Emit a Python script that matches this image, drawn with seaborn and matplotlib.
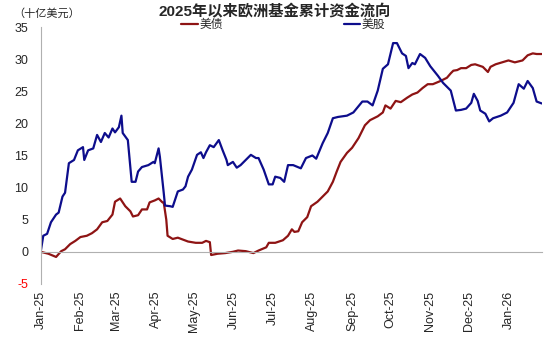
import matplotlib
matplotlib.use("Agg")
import matplotlib.pyplot as plt
import matplotlib.dates as mdates
import seaborn as sns
import pandas as pd

# ---- data (十亿美元) ----
stock_dates = [
    "2025-01-01", "2025-01-03", "2025-01-06", "2025-01-09", "2025-01-13", "2025-01-15",
    "2025-01-18", "2025-01-20", "2025-01-23", "2025-01-27", "2025-01-30", "2025-02-03",
    "2025-02-04", "2025-02-07", "2025-02-11", "2025-02-14", "2025-02-17", "2025-02-20",
    "2025-02-23", "2025-02-26", "2025-02-28", "2025-03-03", "2025-03-05", "2025-03-06",
    "2025-03-10", "2025-03-13", "2025-03-16", "2025-03-18", "2025-03-21", "2025-03-26",
    "2025-03-30", "2025-03-31", "2025-04-03", "2025-04-04", "2025-04-07", "2025-04-08",
    "2025-04-12", "2025-04-14", "2025-04-18", "2025-04-22", "2025-04-24", "2025-04-26",
    "2025-04-29", "2025-05-03", "2025-05-06", "2025-05-08", "2025-05-10", "2025-05-13",
    "2025-05-16", "2025-05-20", "2025-05-23", "2025-05-26", "2025-05-27", "2025-05-31",
    "2025-06-03", "2025-06-06", "2025-06-10", "2025-06-14", "2025-06-18", "2025-06-20",
    "2025-06-24", "2025-06-28", "2025-07-01", "2025-07-03", "2025-07-07", "2025-07-10",
    "2025-07-13", "2025-07-17", "2025-07-23", "2025-07-27", "2025-08-01", "2025-08-04",
    "2025-08-09", "2025-08-13", "2025-08-17", "2025-08-21", "2025-08-28", "2025-09-02",
    "2025-09-09", "2025-09-13", "2025-09-17", "2025-09-21", "2025-09-25", "2025-09-29",
    "2025-10-03", "2025-10-06", "2025-10-10", "2025-10-13", "2025-10-15", "2025-10-18",
    "2025-10-20", "2025-10-24", "2025-10-28", "2025-11-01", "2025-11-07", "2025-11-11",
    "2025-11-17", "2025-11-21", "2025-11-25", "2025-11-29", "2025-12-03", "2025-12-05",
    "2025-12-08", "2025-12-10", "2025-12-14", "2025-12-17", "2025-12-20", "2025-12-26",
    "2025-12-31", "2026-01-05", "2026-01-09", "2026-01-13", "2026-01-16", "2026-01-20",
    "2026-01-23", "2026-01-27",
]
stock_values = [
    0.0, 2.5, 2.8, 4.6, 5.8, 6.1,
    8.6, 9.2, 13.8, 14.3, 15.8, 16.3,
    14.3, 15.8, 16.1, 18.2, 17.1, 18.5,
    17.8, 19.2, 18.6, 19.4, 21.2, 18.5,
    17.4, 10.9, 10.9, 12.5, 13.2, 13.5,
    14.0, 13.8, 16.1, 14.8, 9.2, 7.2,
    7.1, 7.0, 9.4, 9.7, 10.2, 11.7,
    12.8, 15.1, 15.5, 14.6, 15.5, 16.6,
    16.3, 17.4, 15.8, 14.3, 13.5, 14.0,
    13.1, 13.5, 14.3, 15.1, 14.6, 14.6,
    12.8, 10.5, 10.5, 11.7, 11.5, 10.9,
    13.5, 13.5, 13.0, 14.6, 15.0, 14.5,
    16.9, 18.5, 20.8, 21.0, 21.2, 21.7,
    23.4, 23.4, 22.8, 25.1, 28.5, 29.2,
    32.5, 32.5, 30.9, 30.5, 28.6, 29.4,
    29.2, 30.8, 30.2, 28.9, 27.4, 26.3,
    25.1, 22.0, 22.1, 22.3, 23.2, 24.6,
    23.5, 22.0, 21.5, 20.3, 20.8, 21.2,
    21.7, 23.2, 26.1, 25.4, 26.6, 25.5,
    23.4, 23.1,
]

bond_dates = [
    "2025-01-01", "2025-01-07", "2025-01-13", "2025-01-17", "2025-01-20", "2025-01-24",
    "2025-01-28", "2025-02-01", "2025-02-06", "2025-02-10", "2025-02-14", "2025-02-18",
    "2025-02-22", "2025-02-26", "2025-02-28", "2025-03-04", "2025-03-08", "2025-03-12",
    "2025-03-14", "2025-03-18", "2025-03-21", "2025-03-25", "2025-03-27", "2025-03-31",
    "2025-04-03", "2025-04-06", "2025-04-07", "2025-04-09", "2025-04-10", "2025-04-14",
    "2025-04-18", "2025-04-22", "2025-04-26", "2025-05-02", "2025-05-07", "2025-05-10",
    "2025-05-13", "2025-05-14", "2025-05-19", "2025-05-25", "2025-05-31", "2025-06-04",
    "2025-06-10", "2025-06-16", "2025-06-20", "2025-06-26", "2025-06-28", "2025-07-03",
    "2025-07-09", "2025-07-13", "2025-07-16", "2025-07-18", "2025-07-21", "2025-07-24",
    "2025-07-28", "2025-07-31", "2025-08-05", "2025-08-09", "2025-08-13", "2025-08-17",
    "2025-08-20", "2025-08-23", "2025-08-28", "2025-09-01", "2025-09-06", "2025-09-11",
    "2025-09-15", "2025-09-21", "2025-09-25", "2025-09-27", "2025-10-01", "2025-10-05",
    "2025-10-09", "2025-10-14", "2025-10-18", "2025-10-22", "2025-10-26", "2025-10-30",
    "2025-11-03", "2025-11-09", "2025-11-14", "2025-11-17", "2025-11-19", "2025-11-22",
    "2025-11-25", "2025-11-29", "2025-12-03", "2025-12-06", "2025-12-12", "2025-12-16",
    "2025-12-18", "2025-12-22", "2025-12-27", "2026-01-01", "2026-01-06", "2026-01-12",
    "2026-01-16", "2026-01-20", "2026-01-23", "2026-01-27",
]
bond_values = [
    0.0, -0.3, -0.8, 0.1, 0.4, 1.2,
    1.7, 2.3, 2.5, 2.9, 3.5, 4.6,
    4.8, 5.8, 7.8, 8.3, 7.1, 6.3,
    5.5, 5.7, 6.6, 6.6, 7.7, 8.0,
    8.3, 7.7, 7.7, 5.0, 2.5, 2.0,
    2.2, 1.9, 1.6, 1.4, 1.4, 1.7,
    1.5, -0.5, -0.3, -0.2, 0.0, 0.2,
    0.1, -0.2, 0.2, 0.7, 1.4, 1.4,
    1.8, 2.5, 3.5, 3.1, 3.2, 4.6,
    5.4, 7.1, 7.8, 8.6, 9.4, 10.9,
    12.5, 14.0, 15.4, 16.2, 17.7, 19.7,
    20.5, 21.1, 21.7, 22.8, 22.3, 23.5,
    23.3, 24.0, 24.5, 24.8, 25.5, 26.1,
    26.1, 26.6, 27.1, 27.8, 28.2, 28.3,
    28.6, 28.6, 29.1, 29.2, 28.8, 28.0,
    28.8, 29.2, 29.5, 29.8, 29.5, 29.8,
    30.6, 30.9, 30.8, 30.8,
]

series_names = ["美债", "美股"]
series_colors = ["#8E1414", "#0D0D8C"]
title_text = "2025年以来欧洲基金累计资金流向"
unit_text = "（十亿美元）"
y_ticks = [-5, 0, 5, 10, 15, 20, 25, 30, 35]

# ---- frames ----
bond_df = pd.DataFrame({"date": pd.to_datetime(bond_dates), "value": bond_values})
stock_df = pd.DataFrame({"date": pd.to_datetime(stock_dates), "value": stock_values})

sns.set_style("white")
plt.rcParams["font.family"] = ["Liberation Sans", "Noto Sans CJK SC", "DejaVu Sans"]
plt.rcParams["axes.unicode_minus"] = False

fig = plt.figure(figsize=(5.5, 3.38), dpi=100)
ax = fig.add_axes([0.074, 0.160, 0.911, 0.760])

sns.lineplot(data=bond_df, x="date", y="value", ax=ax, color=series_colors[0],
             linewidth=1.6, label=series_names[0])
sns.lineplot(data=stock_df, x="date", y="value", ax=ax, color=series_colors[1],
             linewidth=1.6, label=series_names[1])

ax.set_xlim(bond_df["date"].min(), bond_df["date"].max())
ax.set_ylim(-5, 35)
ax.set_yticks(y_ticks)
ax.set_xlabel("")
ax.set_ylabel("")

# spines
for s in ["top", "right"]:
    ax.spines[s].set_visible(False)
ax.spines["left"].set_color("#B0B0B0")
ax.spines["left"].set_linewidth(0.8)
ax.spines["bottom"].set_position(("data", 0))
ax.spines["bottom"].set_color("#B0B0B0")
ax.spines["bottom"].set_linewidth(0.8)

ax.xaxis.set_major_locator(mdates.MonthLocator())
ax.xaxis.set_major_formatter(mdates.DateFormatter("%b-%y"))
ax.tick_params(axis="x", direction="in", length=3, width=0.8, color="#B0B0B0",
               pad=28, labelsize=9, rotation=90)
ax.tick_params(axis="y", direction="in", length=3, width=0.8, color="#B0B0B0",
               pad=9, labelsize=9)
for lbl in ax.get_xticklabels():
    lbl.set_verticalalignment("top")
for t, lbl in zip(y_ticks, ax.get_yticklabels()):
    if t < 0:
        lbl.set_color("red")

# legend
ax.legend(loc="center", bbox_to_anchor=(283.5 / 550, 1 - 25 / 338),
          bbox_transform=fig.transFigure, ncol=2, frameon=False,
          fontsize=8.5, handlelength=1.4, handletextpad=0.15, columnspacing=10.2,
          borderaxespad=0, borderpad=0)

fig.text(0.5, 1 - 12 / 338, title_text, ha="center", va="center",
         fontsize=11, fontweight="bold")
fig.text(13 / 550, 1 - 13 / 338, unit_text, ha="left", va="center", fontsize=8)

fig.savefig("out.png", dpi=100)
